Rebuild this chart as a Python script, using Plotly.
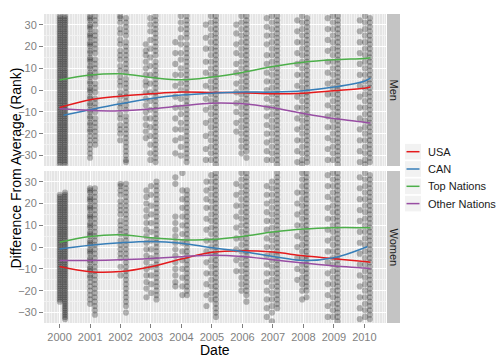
import plotly.graph_objects as go

# ---------------- smoothed trend lines ----------------
line_x = [2000, 2001, 2002, 2003, 2004, 2005, 2006, 2007, 2008, 2009, 2010, 2010.2]
men_can_x = [2000.13, 2001, 2002, 2003, 2004, 2005, 2006, 2007, 2008, 2009, 2010, 2010.2]
women_can_x = [2000, 2001, 2002, 2003, 2004, 2005, 2006, 2007, 2008, 2009, 2010, 2010.1]

men_usa = [-8.0, -4.4, -2.8, -1.7, -0.9, -1.1, -1.2, -1.7, -1.4, -0.3, 0.9, 1.4]
men_can = [-11.5, -9.0, -6.3, -3.9, -2.3, -1.4, -0.9, -0.9, -0.3, 1.4, 4.1, 5.5]
men_top = [4.6, 6.9, 7.5, 5.8, 4.7, 6.0, 8.1, 10.8, 12.8, 13.9, 14.5, 14.8]
men_other = [-8.6, -9.3, -9.5, -8.6, -7.2, -6.0, -6.3, -8.1, -10.7, -13.0, -14.7, -15.1]

women_usa = [-8.9, -11.3, -11.2, -9.0, -5.5, -2.4, -1.7, -2.3, -4.0, -5.3, -6.6, -6.9]
women_can = [-0.9, 0.8, 2.0, 2.6, 1.8, -0.3, -2.0, -4.3, -6.1, -4.9, -0.3, 0.3]
women_top = [2.2, 4.9, 5.7, 4.3, 3.4, 3.5, 4.9, 6.9, 8.3, 8.9, 8.9, 8.9]
women_other = [-6.1, -6.1, -5.8, -5.2, -4.4, -3.7, -4.3, -5.8, -7.3, -8.7, -9.6, -9.9]

series_names = ["USA", "CAN", "Top Nations", "Other Nations"]
series_colors = ["#E41A1C", "#377EB8", "#4DAF4A", "#984EA3"]

# ---------------- individual race results (estimated point clouds) ----------------
men_cols_x = [2000.01, 2000.18, 2001.0, 2001.17, 2001.99, 2002.18, 2002.83, 2002.98, 2003.15,
              2003.8, 2003.98, 2004.17, 2004.8, 2004.97, 2005.13, 2005.8, 2005.97, 2006.13,
              2006.8, 2006.97, 2007.14, 2007.8, 2007.96, 2008.12, 2008.8, 2008.97, 2009.13,
              2009.85, 2010.02, 2010.18]
men_cols_y = [
    "34 33 32 31 30 29 28 27 26 25 24 23 22 21 20 19 18 17 16 15 14 13 12 11 10 9 8 7 6 5 4 3 2 1 0 -1 -2 -3 -4 -5 -6 -7 -8 -9 -10 -11 -12 -13 -14 -15 -16 -17 -18 -19 -20 -21 -22 -23 -24 -25 -26 -27 -28 -29 -30 -31 -32 -33 -34",
    "34 33 32 31 30 29 28 27 26 25 24 23 22 21 20 19 18 17 16 15 14 13 12 11 10 9 8 7 6 5 4 3 2 1 0 -1 -2 -3 -4 -5 -6 -7 -8 -9 -10 -11 -12 -13 -14 -15 -16 -17 -18 -19 -20 -21 -22 -23 -24 -25 -26 -27 -28 -29 -30 -31 -32 -33 -34",
    "34 33 32 30 29 28 26 25 24 22 21 20 18 17 15 14 13 11 10 8 7 6 4 3 1 0 -1 -3 -4 -6 -7 -9 -10 -12 -13 -15 -16 -18 -19 -21 -23 -25 -27 -29 -31",
    "34 32 30 27 25 23 21 19 17 14 12 10 8 6 3 1 -1 -4 -6 -8 -10 -13 -15 -17 -19 -21 -23 -25",
    "34 33 31 28 26 23 21 18 16 14 11 9 6 4 2 -1 -3 -6 -8 -11 -13 -16 -18 -20 -23",
    "33 31 29 27 25 22 20 18 16 14 12 10 8 5 3 1 -1 -3 -5 -7 -9 -12 -14 -16 -18 -20 -22 -24 -26 -28 -30 -32 -33",
    "21 18 16 13 10 7 4 2 -1 -4 -7 -10 -13 -16 -19 -22",
    "33 30 27 23 19 15 11 7 3 -1 -5 -9 -13 -17 -21 -25 -29 -32",
    "34 32 30 28 26 24 22 20 18 16 13 11 9 7 5 3 1 -1 -3 -5 -7 -9 -11 -13 -15 -17 -19 -21 -23 -25 -27 -29 -31 -33",
    "22 17 12 7 2 -3 -8 -13 -18 -23 -29",
    "34 31 28 24 21 17 14 10 7 3 0 -4 -8 -11 -15 -18 -22 -26 -30",
    "34 32 30 28 26 24 21 19 17 15 13 11 9 7 5 3 1 -1 -3 -5 -7 -9 -11 -13 -15 -17 -19 -21 -23 -25 -27 -29 -31 -33",
    "30 24 19 13 8 2 -4 -9 -15 -21 -27 -32",
    "34 31 28 25 22 19 16 13 10 7 4 1 -2 -5 -8 -11 -14 -17 -20 -23 -26 -29 -32",
    "34 32 30 28 26 24 22 20 18 16 14 12 10 8 6 4 2 0 -2 -4 -6 -8 -10 -12 -14 -16 -18 -20 -22 -24 -26 -28 -30 -32 -34",
    "30 26 21 17 12 8 3 -1 -6 -10 -15 -19",
    "34 31 28 25 22 19 16 13 10 7 4 1 -2 -5 -8 -11 -14 -17 -20 -23 -26 -29",
    "34 32 30 28 26 24 22 20 18 16 14 12 10 8 6 4 2 0 -2 -4 -6 -8 -10 -12 -14 -16 -18 -20 -22 -24 -26 -28 -31",
    "33 29 25 21 16 12 8 4 0 -4 -8 -12 -16 -20 -24 -28 -32",
    "34 31 28 25 22 19 16 13 10 7 4 1 -2 -5 -8 -11 -14 -17 -20 -23 -26 -29 -32",
    "34 32 30 28 26 24 22 20 18 16 14 12 10 8 6 4 2 0 -2 -4 -6 -8 -10 -12 -14 -16 -18 -20 -22 -24 -26 -28 -30 -32 -34",
    "32 27 22 17 12 7 2 -3 -8 -13 -18 -23 -28 -33",
    "34 31 28 25 22 19 16 13 10 7 4 1 -2 -5 -8 -11 -14 -17 -20 -23 -26 -29 -32 -34",
    "33 31 29 27 25 23 21 19 17 15 13 11 9 7 5 3 1 -1 -3 -5 -7 -9 -11 -13 -15 -17 -19 -21 -23 -25 -27 -29 -31 -33",
    "33 28 23 18 13 8 3 -2 -7 -12 -17 -22 -27 -32",
    "34 31 28 25 22 19 16 13 10 7 4 1 -2 -5 -8 -11 -14 -17 -20 -23 -26 -29 -32",
    "34 32 30 28 26 24 22 20 18 16 14 12 10 8 6 4 2 0 -2 -4 -6 -8 -10 -12 -14 -16 -18 -20 -22 -24 -26 -28 -30 -32 -34",
    "32 27 22 17 12 7 2 -3 -8 -13 -18 -23 -28 -33",
    "34 31 28 25 22 19 16 13 10 7 4 1 -2 -5 -8 -11 -14 -17 -20 -23 -26 -29 -32 -34",
    "33 31 29 27 25 23 21 19 17 15 13 11 9 7 5 3 1 -1 -3 -5 -7 -9 -11 -13 -15 -17 -19 -21 -23 -25 -27 -29 -31 -33",
]

women_cols_x = [2000.01, 2000.18, 2001.0, 2001.16, 2002.0, 2002.18, 2002.85, 2003.0, 2003.18,
                2003.8, 2004.03, 2004.18, 2004.82, 2004.98, 2005.13, 2005.8, 2005.97, 2006.13,
                2006.8, 2006.97, 2007.14, 2007.8, 2007.96, 2008.1, 2008.8, 2008.97, 2009.12,
                2009.85, 2010.02, 2010.18]
women_cols_y = [
    "24 23 22 21 20 19 18 17 16 15 14 13 12 11 10 9 8 7 6 5 4 3 2 1 0 -1 -2 -3 -4 -5 -6 -7 -8 -9 -10 -11 -12 -13 -14 -15 -16 -17 -18 -19 -20 -21 -22 -23 -24 -25",
    "25 24 23 22 21 20 19 18 17 16 15 14 13 12 11 10 9 8 7 6 5 4 3 2 1 0 -1 -2 -3 -4 -5 -6 -7 -8 -9 -10 -11 -12 -13 -14 -15 -16 -17 -18 -19 -20 -21 -22 -23 -24 -25 -26 -27 -28 -29 -30 -31 -32 -33",
    "27 26 25 23 22 21 19 18 17 15 14 13 11 10 9 7 6 5 3 2 1 -1 -2 -3 -5 -6 -7 -9 -10 -11 -13 -14 -16 -18 -20 -22 -24 -26",
    "27 25 23 21 19 17 15 13 11 9 7 5 3 1 -1 -3 -5 -7 -9 -11 -13 -15 -17 -19 -21 -23 -25 -27 -29 -31",
    "29 28 26 24 21 19 17 15 12 10 8 6 3 1 -1 -3 -5 -9 -13",
    "29 27 25 23 21 19 17 15 13 11 9 7 5 3 1 -1 -3 -5 -7 -9 -11 -13 -15 -17 -19 -21 -23 -25 -27 -30",
    "26 23 20 17 14 11 8 5 2 -1 -4 -7 -10 -13 -16 -19 -23",
    "28 24 19 15 11 7 3 -1 -5 -9 -13 -17 -21",
    "30 28 26 24 22 20 18 16 14 12 10 8 6 4 2 0 -2 -4 -6 -8 -10 -12 -14 -16 -18 -20 -22 -24",
    "32 29 14 11 8 5 2 -1 -4 -7 -10 -13 -16 -18",
    "34 26 22 18 14 10 6 2 -2 -6 -10 -14 -18 -22",
    "26 24 22 20 18 16 14 12 10 8 6 4 2 0 -2 -4 -6 -8 -10 -12 -14 -16 -18 -20 -22",
    "30 26 22 18 13 8 3 -2 -7 -12 -17 -22 -27",
    "33 30 27 24 21 18 15 12 9 6 3 0 -3 -6 -9 -12 -15 -18 -21 -24",
    "34 32 30 28 26 24 22 20 18 16 14 12 10 8 6 4 2 0 -2 -4 -6 -8 -10 -12 -14 -16 -18 -20 -22 -24 -26 -28 -30 -32",
    "29 24 19 14 9 4 -1 -6 -11",
    "34 31 28 25 22 19 16 13 10 7 4 1 -2 -5 -8 -11 -14 -17 -20",
    "34 32 30 28 26 24 22 20 18 16 14 12 10 8 6 4 2 0 -2 -4 -6 -8 -10 -12 -14 -16 -18 -20 -22 -25",
    "28 24 20 16 12 8 4 0 -4 -8 -12 -16 -20 -24 -28 -32",
    "30 27 24 21 18 15 12 9 6 3 0 -3 -6 -9 -12 -15 -18 -21 -24 -27 -30 -34",
    "34 32 30 28 26 24 22 20 18 16 14 12 10 8 6 4 2 0 -2 -4 -6 -8 -10 -12 -14 -16 -18 -20 -22 -24 -26 -28",
    "25 20 15 10 5 0 -5 -10 -15",
    "34 31 28 25 22 19 16 13 10 7 4 1 -2 -5 -8 -11 -14 -17 -20 -24",
    "34 32 30 28 26 24 22 20 18 16 14 12 10 8 6 4 2 0 -2 -4 -6 -8 -10 -12 -14 -16 -18 -20 -23",
    "33 28 23 18 13 8 3 -2 -7 -12 -17 -22 -27 -32",
    "34 31 28 25 22 19 16 13 10 7 4 1 -2 -5 -8 -11 -14 -17 -20 -23 -26 -29 -32",
    "34 32 30 28 26 24 22 20 18 16 14 12 10 8 6 4 2 0 -2 -4 -6 -8 -10 -12 -14 -16 -18 -20 -22 -24 -26 -28 -30 -32 -34",
    "32 27 22 17 12 7 2 -3 -8 -13 -18 -23 -28 -33",
    "34 31 28 25 22 19 16 13 10 7 4 1 -2 -5 -8 -11 -14 -17 -20 -23 -26 -29 -32",
    "33 31 29 27 25 23 21 19 17 15 13 11 9 7 5 3 1 -1 -3 -5 -7 -9 -11 -13 -15 -17 -19 -21 -23 -25 -27 -29 -31 -33",
]

year_ticks = [2000, 2001, 2002, 2003, 2004, 2005, 2006, 2007, 2008, 2009, 2010]
year_labels = ["2000", "2001", "2002", "2003", "2004", "2005", "2006", "2007", "2008", "2009", "2010"]
rank_ticks = [-30, -20, -10, 0, 10, 20, 30]
panel_names = ["Men", "Women"]


def expand(cols_x, cols_y):
    xs, ys = [], []
    for x, s in zip(cols_x, cols_y):
        for v in s.split():
            xs.append(x)
            ys.append(int(v))
    return xs, ys


FONT = "Liberation Sans, Arial, Helvetica, sans-serif"
fig = go.Figure()

panels = [
    ("x2", "y2", men_cols_x, men_cols_y,
     [(line_x, men_usa), (men_can_x, men_can), (line_x, men_top), (line_x, men_other)]),
    ("x", "y", women_cols_x, women_cols_y,
     [(line_x, women_usa), (women_can_x, women_can), (line_x, women_top), (line_x, women_other)]),
]

for xa, ya, cx, cy, lines in panels:
    px, py = expand(cx, cy)
    fig.add_trace(go.Scatter(x=px, y=py, mode="markers", xaxis=xa, yaxis=ya,
                             marker=dict(size=6.2, color="rgba(0,0,0,0.27)", line=dict(width=0)),
                             showlegend=False, hoverinfo="skip"))
    for (lx, ly), name, col in zip(lines, series_names, series_colors):
        fig.add_trace(go.Scatter(x=lx, y=ly, mode="lines", xaxis=xa, yaxis=ya, name=name,
                                 line=dict(color=col, width=1.5, shape="spline", smoothing=1.0),
                                 showlegend=False))

# The page body has an 8px margin: the figure is drawn 8px right/down in the window.
OFF = 8
W, H = 504 - OFF, 360 - OFF
# panel geometry in window pixels
L, R, T, B = 44, 386, 14, 323
pw, ph = R - L, B - T


def px2x(p):
    return (p - L) / pw


def px2y(p):
    return (B - p) / ph


top_dom = [px2y(166), 1.0]
bot_dom = [0.0, px2y(171)]

xcommon = dict(range=[1999.49, 2010.71], tickvals=year_ticks, ticktext=year_labels,
               showgrid=True, gridcolor="white", gridwidth=1.2, zeroline=False,
               minor=dict(dtick=1 / 12, tick0=2000, showgrid=True, gridcolor="#F2F2F2", gridwidth=0.5),
               ticklen=4, tickcolor="#7F7F7F", tickwidth=1,
               tickfont=dict(family=FONT, size=11, color="#7F7F7F"), showline=False)
ycommon = dict(range=[-34.8, 34.9], tickvals=rank_ticks,
               showgrid=True, gridcolor="white", gridwidth=1.2, zeroline=False,
               minor=dict(dtick=5, tick0=5, showgrid=True, gridcolor="#F2F2F2", gridwidth=0.5),
               ticks="outside", ticklen=4, tickcolor="#7F7F7F", tickwidth=1,
               tickfont=dict(family=FONT, size=11, color="#7F7F7F"), showline=False)

fig.update_layout(
    width=W, height=H,
    margin=dict(l=L - OFF, r=W - (R - OFF), t=T - OFF, b=H - (B - OFF), pad=0, autoexpand=False),
    paper_bgcolor="white", plot_bgcolor="#E5E5E5",
    showlegend=False,
    xaxis=dict(domain=[0, 1], anchor="y", ticks="outside", **xcommon),
    xaxis2=dict(domain=[0, 1], anchor="y2", matches="x", showticklabels=False, ticks="", **xcommon),
    yaxis=dict(domain=bot_dom, anchor="x", **ycommon),
    yaxis2=dict(domain=top_dom, anchor="x2", **ycommon),
)

shapes = []
annotations = []
# facet strips
for dom, name in zip([top_dom, bot_dom], panel_names):
    shapes.append(dict(type="rect", xref="paper", yref="paper", x0=px2x(387), x1=px2x(400),
                       y0=dom[0], y1=dom[1], fillcolor="#C4C4C4", line=dict(width=0), layer="below"))
    annotations.append(dict(xref="paper", yref="paper", x=px2x(393.5), y=(dom[0] + dom[1]) / 2,
                            text=name, textangle=90, showarrow=False,
                            font=dict(family=FONT, size=11, color="#1A1A1A"),
                            xanchor="center", yanchor="middle"))

# legend (drawn manually to match ggplot key boxes)
key_centers = [151.7, 169.0, 186.3, 203.6]
for yc, name, col in zip(key_centers, series_names, series_colors):
    shapes.append(dict(type="rect", xref="paper", yref="paper", x0=px2x(405), x1=px2x(421),
                       y0=px2y(yc + 7.8), y1=px2y(yc - 7.8), fillcolor="#F2F2F2",
                       line=dict(width=0)))
    shapes.append(dict(type="line", xref="paper", yref="paper", x0=px2x(406.5), x1=px2x(419.5),
                       y0=px2y(yc), y1=px2y(yc), line=dict(color=col, width=1.5)))
    annotations.append(dict(xref="paper", yref="paper", x=px2x(426), y=px2y(yc), text=name,
                            showarrow=False, xanchor="left", yanchor="middle",
                            font=dict(family=FONT, size=11, color="#1A1A1A")))

# axis titles
annotations.append(dict(xref="paper", yref="paper", x=px2x(15), y=px2y(168.5),
                        text="Difference From Average (Rank)", textangle=-90, showarrow=False,
                        xanchor="center", yanchor="middle",
                        font=dict(family=FONT, size=14, color="black")))
annotations.append(dict(xref="paper", yref="paper", x=0.5, y=px2y(350.5), text="Date",
                        showarrow=False, xanchor="center", yanchor="middle",
                        font=dict(family=FONT, size=14, color="black")))

fig.update_layout(shapes=shapes, annotations=annotations)
fig.write_html("out.html")
